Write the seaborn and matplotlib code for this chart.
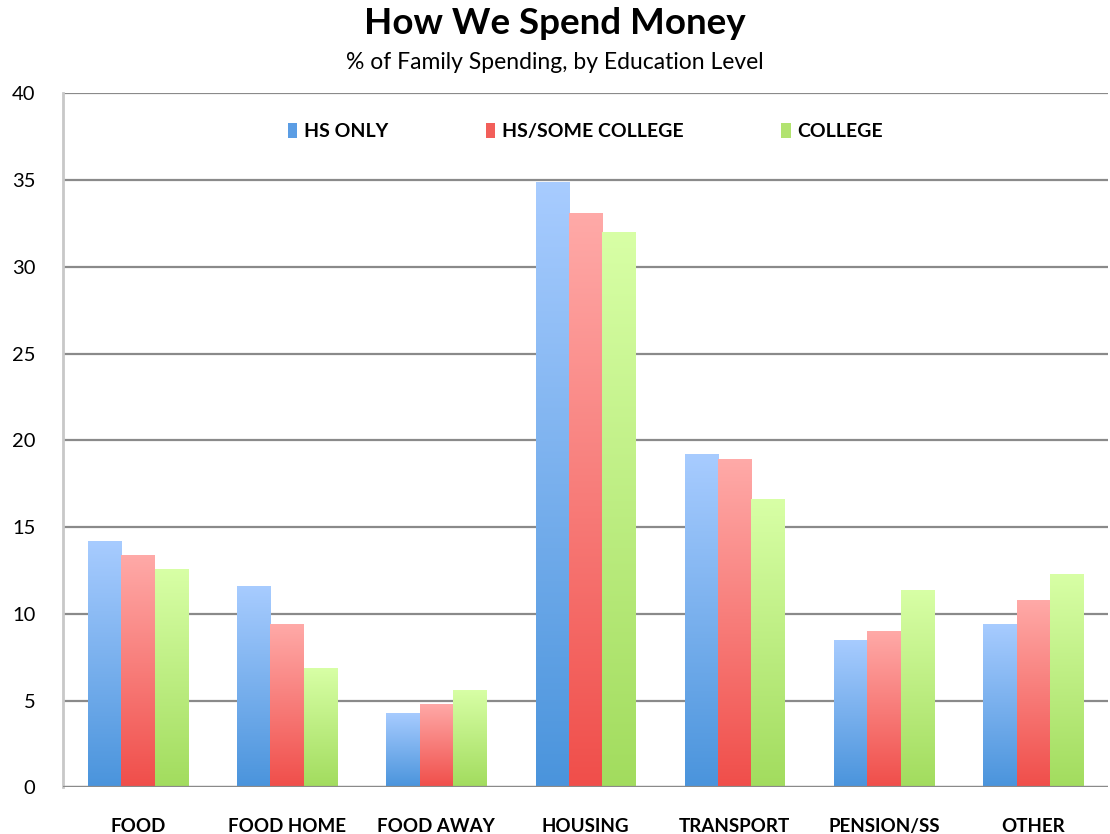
import numpy as np
import pandas as pd
import seaborn as sns
import matplotlib.pyplot as plt
from matplotlib.colors import LinearSegmentedColormap

categories = ['FOOD', 'FOOD HOME', 'FOOD AWAY', 'HOUSING', 'TRANSPORT', 'PENSION/SS', 'OTHER']
groups = ['HS ONLY', 'HS/SOME COLLEGE', 'COLLEGE']
hs_only = [14.2, 11.6, 4.3, 34.9, 19.2, 8.5, 9.4]
hs_some = [13.4, 9.4, 4.8, 33.1, 18.9, 9.0, 10.8]
college = [12.6, 6.9, 5.6, 32.0, 16.6, 11.4, 12.3]

df = pd.DataFrame({
    'category': categories * 3,
    'group': [g for g in groups for _ in categories],
    'value': hs_only + hs_some + college,
})

# top / bottom colours of the gradient for each series
grad = {
    'HS ONLY': ('#a8ccff', '#4a94dc'),
    'HS/SOME COLLEGE': ('#ffaaa8', '#f04e4a'),
    'COLLEGE': ('#d8ffa6', '#a2dc5e'),
}
palette = {'HS ONLY': '#5b9de4', 'HS/SOME COLLEGE': '#f25f5a', 'COLLEGE': '#b2e370'}

sns.set_theme(style='white')
plt.rcParams['font.family'] = ['Lato', 'DejaVu Sans']
plt.rcParams['text.color'] = 'black'
plt.rcParams['xtick.color'] = 'black'
plt.rcParams['ytick.color'] = 'black'

fig = plt.figure(figsize=(11.1, 8.34), dpi=100)
ax = fig.add_axes([0.057, 0.056, 0.941, 0.832])

sns.barplot(data=df, x='category', y='value', hue='group', palette=palette,
            width=0.67, gap=0, ax=ax, saturation=1, edgecolor='none', zorder=3)

# fill each bar with a vertical gradient
for cont, g in zip(ax.containers, groups):
    cmap = LinearSegmentedColormap.from_list(g, [grad[g][1], grad[g][0]])
    for bar in cont:
        x0, y0 = bar.get_x(), bar.get_y()
        w, h = bar.get_width(), bar.get_height()
        im = ax.imshow(np.linspace(0, 1, 256).reshape(-1, 1), cmap=cmap, aspect='auto',
                       origin='lower', extent=[x0, x0 + w, y0, y0 + h], zorder=4)
        im.set_clip_path(bar)

ax.set_xlim(-0.5, 6.5)
ax.set_ylim(0, 40)
ax.set_yticks(range(0, 41, 5))
ax.yaxis.grid(True, color='#8a8a8a', linewidth=1.6, zorder=0)
ax.set_axisbelow(True)
for s in ['top', 'right', 'bottom']:
    ax.spines[s].set_visible(False)
ax.spines['left'].set_color('#c8c8c8')
ax.spines['left'].set_linewidth(2)
ax.axhline(0, color='#8a8a8a', linewidth=1.6, zorder=5)

ax.set_xlabel('')
ax.set_ylabel('')
ax.tick_params(axis='y', length=0, pad=20, labelsize=14.5)
ax.tick_params(axis='x', length=0, pad=22, labelsize=13.5)
for lab in ax.get_xticklabels():
    lab.set_fontweight('bold')

leg = ax.legend(loc='center', bbox_to_anchor=(0.5, 0.945), ncol=3, frameon=False,
                handlelength=0.5, handleheight=0.8, handletextpad=0.35, columnspacing=5.0,
                prop={'weight': 'bold', 'size': 14})

fig.text(0.5, 0.972, 'How We Spend Money', ha='center', va='center',
         fontsize=26.5, fontweight='bold')
fig.text(0.5, 0.925, '% of Family Spending, by Education Level', ha='center',
         va='center', fontsize=16.5)

fig.savefig('out.png', dpi=100)
